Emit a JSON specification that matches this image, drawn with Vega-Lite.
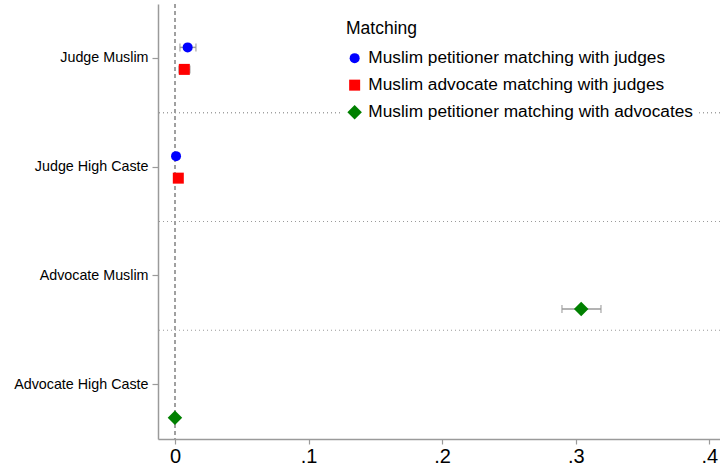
{
  "$schema": "https://vega.github.io/schema/vega-lite/v6.json",
  "autosize": {"type": "none"},
  "width": 562,
  "height": 435,
  "padding": {"left": 158, "top": 4, "right": 0, "bottom": 33},
  "background": "white",
  "config": {
    "view": {"stroke": null},
    "font": "Liberation Sans",
    "axis": {"labelFont": "Liberation Sans", "labelColor": "#000000", "domainColor": "#9a9a9a", "tickColor": "#9a9a9a", "domainWidth": 1.5, "tickWidth": 1.2, "grid": false, "title": null}
  },
  "data": {
    "values": [
      {"category": "Judge Muslim", "series": "Muslim petitioner matching with judges", "estimate": 0.0095, "lo": 0.0037, "hi": 0.0157},
      {"category": "Judge Muslim", "series": "Muslim advocate matching with judges", "estimate": 0.0070, "lo": 0.0030, "hi": 0.0112},
      {"category": "Judge High Caste", "series": "Muslim petitioner matching with judges", "estimate": 0.0008, "lo": 0.0000, "hi": 0.0016},
      {"category": "Judge High Caste", "series": "Muslim advocate matching with judges", "estimate": 0.0025, "lo": 0.0012, "hi": 0.0038},
      {"category": "Advocate Muslim", "series": "Muslim petitioner matching with advocates", "estimate": 0.3041, "lo": 0.2897, "hi": 0.3189},
      {"category": "Advocate High Caste", "series": "Muslim petitioner matching with advocates", "estimate": 0.0000, "lo": -0.0005, "hi": 0.0005}
    ]
  },
  "layer": [
    {
      "transform": [{"filter": "datum.category !== 'Judge Muslim'"}],
      "mark": {"type": "rule", "color": "#9a9a9a", "strokeDash": [1, 3], "strokeWidth": 1},
      "encoding": {
        "y": {"field": "category", "type": "nominal", "bandPosition": 0,
              "sort": ["Judge Muslim", "Judge High Caste", "Advocate Muslim", "Advocate High Caste"],
              "scale": {"domain": ["Judge Muslim", "Judge High Caste", "Advocate Muslim", "Advocate High Caste"], "paddingInner": 0, "paddingOuter": 0}}
      }
    },
    {
      "mark": {"type": "rule", "color": "#a0a0a0", "strokeDash": [4, 3], "strokeWidth": 1.2},
      "encoding": {"x": {"datum": 0, "type": "quantitative"}}
    },
    {
      "mark": {"type": "rule", "color": "#9a9a9a", "strokeWidth": 1.5},
      "encoding": {
        "x": {"field": "lo", "type": "quantitative"},
        "x2": {"field": "hi"},
        "y": {"field": "category", "type": "nominal"},
        "yOffset": {"field": "series", "type": "nominal"}
      }
    },
    {
      "mark": {"type": "tick", "color": "#9a9a9a", "size": 8, "thickness": 1.5},
      "encoding": {
        "x": {"field": "lo", "type": "quantitative"},
        "y": {"field": "category", "type": "nominal"},
        "yOffset": {"field": "series", "type": "nominal"}
      }
    },
    {
      "mark": {"type": "tick", "color": "#9a9a9a", "size": 8, "thickness": 1.5},
      "encoding": {
        "x": {"field": "hi", "type": "quantitative"},
        "y": {"field": "category", "type": "nominal"},
        "yOffset": {"field": "series", "type": "nominal"}
      }
    },
    {
      "mark": {"type": "point", "filled": true, "opacity": 1},
      "encoding": {
        "x": {"field": "estimate", "type": "quantitative",
              "scale": {"domain": [-0.0127, 0.408], "nice": false, "zero": false},
              "axis": {"values": [0, 0.1, 0.2, 0.3, 0.4], "labelExpr": "datum.value == 0 ? '0' : replace(format(datum.value, '.1f'), '0.', '.')", "labelFontSize": 20, "tickSize": 5, "labelPadding": 2, "labelFlush": false}},
        "y": {"field": "category", "type": "nominal",
              "sort": ["Judge Muslim", "Judge High Caste", "Advocate Muslim", "Advocate High Caste"],
              "axis": {"labelFontSize": 14.3, "tickSize": 6, "labelPadding": 4}},
        "yOffset": {"field": "series", "type": "nominal",
                    "scale": {"domain": ["Muslim petitioner matching with judges", "Muslim advocate matching with judges", "Muslim petitioner matching with advocates"], "paddingInner": 0, "paddingOuter": 0.97, "align": 0.758}},
        "color": {"field": "series", "type": "nominal", "title": "Matching",
                  "scale": {"domain": ["Muslim petitioner matching with judges", "Muslim advocate matching with judges", "Muslim petitioner matching with advocates"], "range": ["#0000ff", "#ff0000", "#008000"]},
                  "legend": {"orient": "none", "legendX": 182, "legendY": 10, "fillColor": "white", "padding": 6, "titleFontSize": 17.5, "titleFontWeight": "normal", "titleColor": "#000000", "labelFontSize": 17.3, "labelColor": "#000000", "titlePadding": 12, "rowPadding": 9, "labelOffset": 5, "labelLimit": 500, "titleFont": "Liberation Sans", "labelFont": "Liberation Sans"}},
        "shape": {"field": "series", "type": "nominal", "title": "Matching",
                  "scale": {"domain": ["Muslim petitioner matching with judges", "Muslim advocate matching with judges", "Muslim petitioner matching with advocates"], "range": ["circle", "square", "diamond"]}},
        "size": {"field": "series", "type": "nominal", "title": "Matching",
                 "scale": {"type": "ordinal", "domain": ["Muslim petitioner matching with judges", "Muslim advocate matching with judges", "Muslim petitioner matching with advocates"], "range": [100, 121, 210]}}
      }
    }
  ]
}
